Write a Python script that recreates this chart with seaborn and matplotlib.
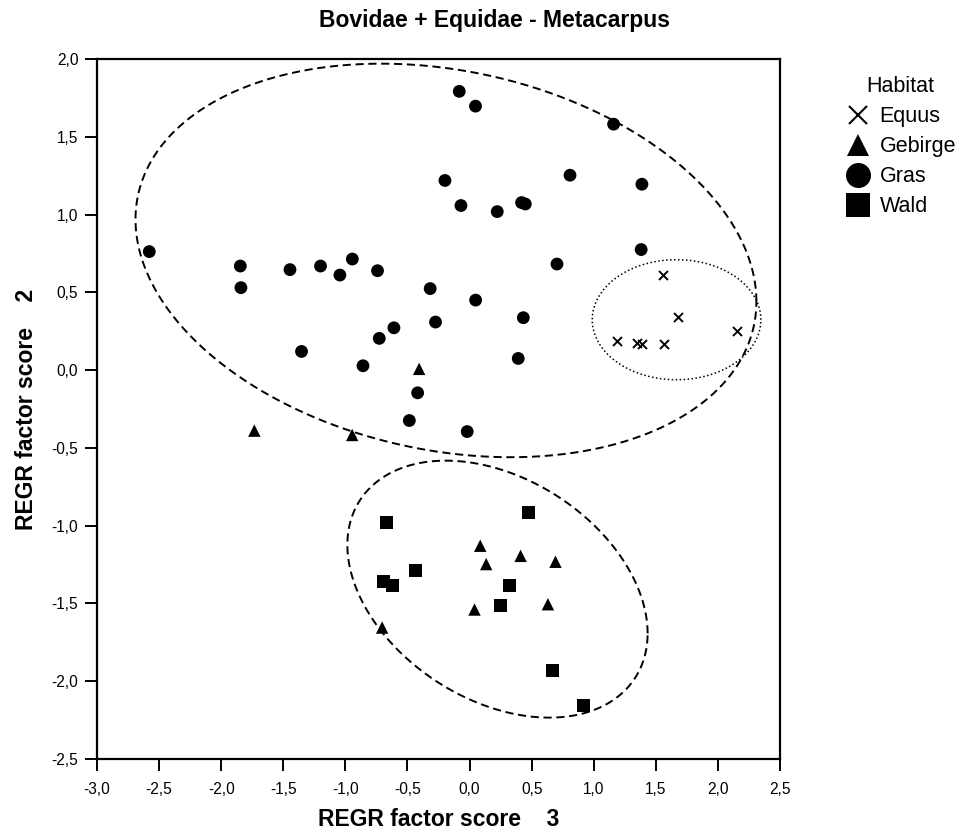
import numpy as np
import pandas as pd
import matplotlib
matplotlib.use("Agg")
import matplotlib.pyplot as plt
from matplotlib.lines import Line2D
import seaborn as sns

sns.set_theme(style="white")
plt.rcParams['font.family'] = ['Liberation Sans', 'DejaVu Sans']
plt.rcParams['text.color'] = 'black'
plt.rcParams['axes.labelcolor'] = 'black'

# ---- data ----
equus_x = [1.561, 1.676, 1.184, 1.350, 1.385, 1.565, 2.155]
equus_y = [0.609, 0.341, 0.189, 0.173, 0.169, 0.169, 0.249]

gebirge_x = [-0.406, -1.733, -0.945, 0.086, 0.411, 0.134, 0.692, 0.040, 0.631, -0.704]
gebirge_y = [0.008, -0.389, -0.417, -1.129, -1.194, -1.247, -1.232, -1.539, -1.505, -1.655]

gras_x = [-2.579, -1.846, -1.841, -1.446, -1.200, -1.044, -0.944, -0.741, -0.317, -0.274,
          -0.609, -0.727, -1.353, -0.858, -0.418, -0.083, 0.048, 1.160, -0.198, 0.809,
          1.388, -0.069, 0.223, 0.419, 0.449, 1.382, 0.704, 0.049, 0.433, 0.392,
          -0.485, -0.019]
gras_y = [0.762, 0.669, 0.530, 0.646, 0.669, 0.611, 0.714, 0.639, 0.524, 0.309,
          0.272, 0.204, 0.120, 0.028, -0.146, 1.792, 1.697, 1.581, 1.219, 1.253,
          1.195, 1.058, 1.019, 1.077, 1.068, 0.775, 0.682, 0.450, 0.337, 0.075,
          -0.324, -0.395]

wald_x = [-0.665, 0.478, -0.432, -0.695, -0.622, 0.325, 0.253, 0.668, 0.921]
wald_y = [-0.977, -0.917, -1.290, -1.361, -1.385, -1.385, -1.513, -1.934, -2.155]

categories = ["Equus", "Gebirge", "Gras", "Wald"]
xticks = [-3.0, -2.5, -2.0, -1.5, -1.0, -0.5, 0.0, 0.5, 1.0, 1.5, 2.0, 2.5]
xticklabels = ["-3,0", "-2,5", "-2,0", "-1,5", "-1,0", "-0,5", "0,0", "0,5", "1,0", "1,5", "2,0", "2,5"]
yticks = [-2.5, -2.0, -1.5, -1.0, -0.5, 0.0, 0.5, 1.0, 1.5, 2.0]
yticklabels = ["-2,5", "-2,0", "-1,5", "-1,0", "-0,5", "0,0", "0,5", "1,0", "1,5", "2,0"]

# group outlines: centre x, centre y, half x-extent, half y-extent, covariance term
outline_gras = (-0.19, 0.705, 2.50, 1.265, -0.66)
outline_wald = (0.225, -1.408, 1.209, 0.826, -0.344)
outline_equus = (1.667, 0.324, 0.679, 0.386, 0.0)

df = pd.concat([
    pd.DataFrame({"x": equus_x, "y": equus_y, "Habitat": "Equus"}),
    pd.DataFrame({"x": gebirge_x, "y": gebirge_y, "Habitat": "Gebirge"}),
    pd.DataFrame({"x": gras_x, "y": gras_y, "Habitat": "Gras"}),
    pd.DataFrame({"x": wald_x, "y": wald_y, "Habitat": "Wald"}),
], ignore_index=True)

fig = plt.figure(figsize=(9.6, 8.36), dpi=100)
ax = fig.add_axes([97/960, 1 - 759/836, (780 - 97)/960, (759 - 59)/836])

markers = {"Equus": "x", "Gebirge": "^", "Gras": "o", "Wald": "s"}
sizes = {"Equus": 42, "Gebirge": 80, "Gras": 85, "Wald": 88}
for cat in categories:
    sub = df[df["Habitat"] == cat]
    kw = dict(linewidth=1.4) if cat == "Equus" else dict(edgecolor="none")
    sns.scatterplot(data=sub, x="x", y="y", marker=markers[cat], color="black",
                    s=sizes[cat], ax=ax, legend=False, zorder=3, **kw)


def outline(params):
    cx, cy, xe, ye, m12 = params
    M = np.array([[xe**2, m12], [m12, ye**2]])
    A = np.linalg.cholesky(M)
    t = np.linspace(0, 2*np.pi, 500)
    p = A @ np.vstack([np.cos(t), np.sin(t)])
    return cx + p[0], cy + p[1]


for params, ls, lw in [(outline_gras, (0, (4.2, 2.4)), 1.4),
                       (outline_wald, (0, (4.2, 2.4)), 1.4),
                       (outline_equus, (0, (1, 1.6)), 1.1)]:
    ex, ey = outline(params)
    ax.plot(ex, ey, color="black", ls=ls, lw=lw, zorder=2)

ax.set_xlim(-3.0, 2.5)
ax.set_ylim(-2.5, 2.0)
ax.set_xticks(xticks)
ax.set_xticklabels(xticklabels)
ax.set_yticks(yticks)
ax.set_yticklabels(yticklabels)
ax.tick_params(axis="both", which="major", direction="out", length=8.5, width=1.4,
               color="black", labelsize=11.2, labelcolor="black",
               bottom=True, left=True, top=False, right=False)
ax.tick_params(axis="x", pad=8)
ax.tick_params(axis="y", pad=5)
for sp in ax.spines.values():
    sp.set_visible(True)
    sp.set_color("black")
    sp.set_linewidth(1.6)
ax.grid(False)
ax.set_facecolor("white")

ax.set_xlabel("REGR factor score    3", fontsize=16.5, fontweight="bold", labelpad=8,
              color="black")
ax.set_ylabel("REGR factor score    2", fontsize=16.5, fontweight="bold", labelpad=10,
              color="black")
fig.text(0.5156, 0.976, "Bovidae + Equidae - Metacarpus", ha="center", va="center",
         fontsize=16.5, fontweight="bold", color="black")

handles = [Line2D([], [], ls="none", marker="x", color="black", markersize=13, markeredgewidth=1.5),
           Line2D([], [], ls="none", marker="^", color="black", markersize=16.5, markeredgewidth=0),
           Line2D([], [], ls="none", marker="o", color="black", markersize=18, markeredgewidth=0),
           Line2D([], [], ls="none", marker="s", color="black", markersize=17, markeredgewidth=0)]
leg = fig.legend(handles, categories, title="Habitat", loc="upper left",
                 bbox_to_anchor=(845/960, 1 - 76/836), frameon=False, fontsize=15.5,
                 title_fontsize=15.5, handlelength=1.2, handletextpad=0.4,
                 labelspacing=0.42, borderaxespad=0, borderpad=0)
for t in leg.get_texts():
    t.set_color("black")
leg.get_title().set_color("black")

fig.savefig("out.png", dpi=100, facecolor="white")
